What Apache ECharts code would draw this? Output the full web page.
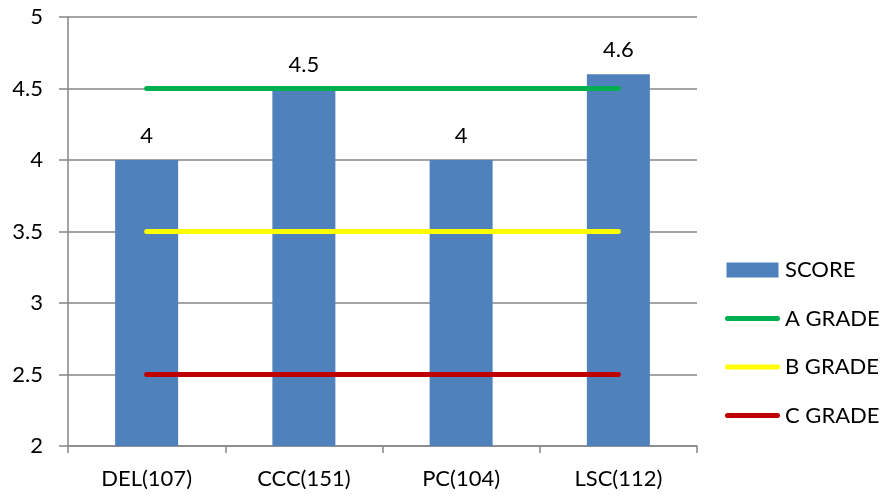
<!DOCTYPE html>
<html>
<head>
<meta charset="utf-8">
<script src="https://cdn.jsdelivr.net/npm/echarts@6/dist/echarts.min.js"></script>
<style>html,body{margin:0;padding:0;background:#fff}#c{width:883px;height:497px}</style>
</head>
<body>
<div id="c"></div>
<script>
var categories = ['DEL(107)', 'CCC(151)', 'PC(104)', 'LSC(112)'];
var score = [4, 4.5, 4, 4.6];
var gradeA = [4.5, 4.5, 4.5, 4.5];
var gradeB = [3.5, 3.5, 3.5, 3.5];
var gradeC = [2.5, 2.5, 2.5, 2.5];

var FONT = 'Lato';
var LINE_ICON = 'path://M0,0 M55,15 M2.5,5 L52.5,5 A2.5,2.5 0 0 1 52.5,10 L2.5,10 A2.5,2.5 0 0 1 2.5,5 Z';
var chart = echarts.init(document.getElementById('c'), null, {renderer: 'canvas'});
function lineSeries(name, data, color) {
  return {
    name: name, type: 'line', data: data, symbol: 'none', z: 3,
    lineStyle: {color: color, width: 5, cap: 'round'},
    itemStyle: {color: color}
  };
}
chart.setOption({
  animation: false,
  backgroundColor: '#ffffff',
  grid: {left: 68, right: 186, top: 17, bottom: 51, containLabel: false},
  legend: {
    orient: 'vertical', left: 720, top: 254, padding: 5,
    itemWidth: 55, itemHeight: 15, itemGap: 26.5,
    textStyle: {fontFamily: FONT, fontSize: 22, color: '#000', lineHeight: 22},
    data: [
      {name: 'SCORE', icon: 'path://M0,0 L52,0 L52,15 L0,15 Z'},
      {name: 'A GRADE', icon: LINE_ICON},
      {name: 'B GRADE', icon: LINE_ICON},
      {name: 'C GRADE', icon: LINE_ICON}
    ]
  },
  xAxis: {
    type: 'category', data: categories,
    axisLine: {lineStyle: {color: '#868686', width: 1.5}},
    axisTick: {show: true, length: 7, alignWithLabel: false, lineStyle: {color: '#868686', width: 1.5}},
    axisLabel: {fontFamily: FONT, fontSize: 22, color: '#000', margin: 22}
  },
  yAxis: {
    type: 'value', min: 2, max: 5, interval: 0.5,
    axisLine: {show: true, lineStyle: {color: '#868686', width: 1.5}},
    axisTick: {show: true, length: 9, lineStyle: {color: '#868686', width: 1.5}},
    splitLine: {lineStyle: {color: '#868686', width: 1.5}},
    axisLabel: {fontFamily: FONT, fontSize: 22, color: '#000', margin: 25}
  },
  series: [
    {
      name: 'SCORE', type: 'bar', data: score, barWidth: 63, z: 2,
      itemStyle: {color: '#4F81BD'},
      label: {show: true, position: 'top', distance: 13, fontFamily: FONT, fontSize: 22, color: '#000'}
    },
    lineSeries('A GRADE', gradeA, '#00B050'),
    lineSeries('B GRADE', gradeB, '#FFFF00'),
    lineSeries('C GRADE', gradeC, '#C00000')
  ]
});
</script>
</body>
</html>
